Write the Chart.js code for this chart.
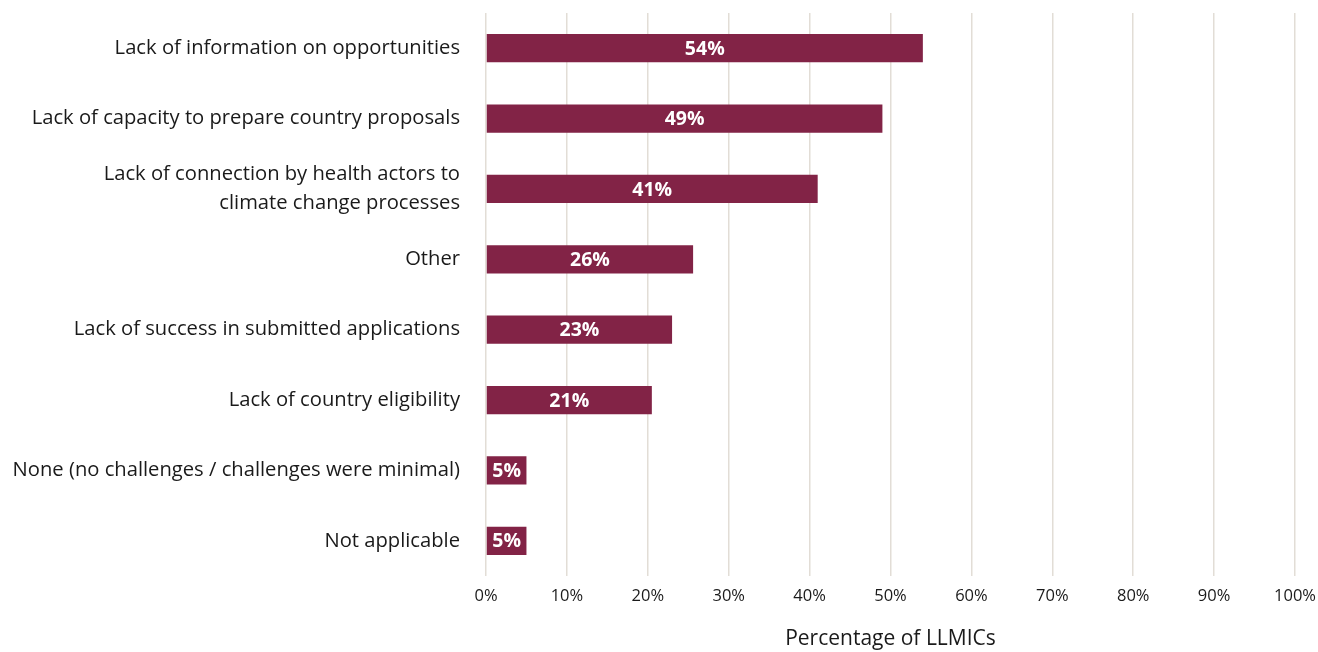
<!DOCTYPE html>
<html>
<head>
<meta charset="utf-8">
<script src="https://cdn.jsdelivr.net/npm/chart.js@4"></script>
<style>
  html, body { margin: 0; padding: 0; background: #fff; }
  #wrap { width: 1318px; height: 652px; }
</style>
</head>
<body>
<div id="wrap"><canvas id="myChart" width="1318" height="652"></canvas></div>
<script>
const categories = [
  'Lack of information on opportunities',
  'Lack of capacity to prepare country proposals',
  ['Lack of connection by health actors to', 'climate change processes'],
  'Other',
  'Lack of success in submitted applications',
  'Lack of country eligibility',
  'None (no challenges / challenges were minimal)',
  'Not applicable'
]
const shares = [54, 49, 41, 25.6, 23, 20.5, 5, 5]
const xTicks = [0, 10, 20, 30, 40, 50, 60, 70, 80, 90, 100]

const FONT = '"Open Sans", Lato, sans-serif'

// white % labels in the middle of each bar
const barLabels = {
  id: 'barLabels',
  afterDatasetsDraw(chart) {
    const ctx = chart.ctx
    const meta = chart.getDatasetMeta(0)
    ctx.save()
    ctx.fillStyle = '#ffffff'
    ctx.font = 'bold 19.5px ' + FONT
    ctx.textAlign = 'center'
    ctx.textBaseline = 'middle'
    meta.data.forEach((bar, i) => {
      const mid = (bar.x + bar.base) / 2
      ctx.fillText(Math.round(shares[i]) + '%', mid, bar.y + 1)
    })
    ctx.restore()
  }
}

const ctx = document.getElementById('myChart')
new Chart(ctx, {
  type: 'bar',
  data: {
    labels: categories,
    datasets: [{
      data: shares,
      backgroundColor: '#822346',
      barPercentage: 0.4,
      categoryPercentage: 1
    }]
  },
  options: {
    indexAxis: 'y',
    responsive: false,
    animation: false,
    layout: { padding: { top: 13, right: 23, bottom: 0, left: 0 } },
    plugins: {
      legend: { display: false },
      tooltip: { enabled: false }
    },
    scales: {
      x: {
        min: 0,
        max: 100,
        afterBuildTicks: (s) => { s.ticks = xTicks.map(v => ({ value: v })) },
        afterFit: (s) => {
          s.height = 76
          s.paddingLeft = 0
          s.paddingRight = 0
        },
        grid: { color: '#e2ddd6', lineWidth: 1.5, drawTicks: false },
        border: { display: false },
        ticks: {
          padding: 10,
          color: '#1a1a1a',
          font: { family: FONT, size: 16.5 },
          callback: (v) => v + '%'
        },
        title: {
          display: true,
          text: 'Percentage of LLMICs',
          color: '#1a1a1a',
          font: { family: FONT, size: 21 },
          padding: { top: 12, bottom: 0 }
        }
      },
      y: {
        afterFit: (s) => {
          s.width = 486
          s.paddingTop = 0
          s.paddingBottom = 0
        },
        grid: { display: false },
        border: { display: false },
        ticks: {
          padding: 18,
          color: '#1a1a1a',
          font: { family: FONT, size: 20.2, lineHeight: 1.42 }
        }
      }
    }
  },
  plugins: [barLabels]
})
</script>
</body>
</html>
